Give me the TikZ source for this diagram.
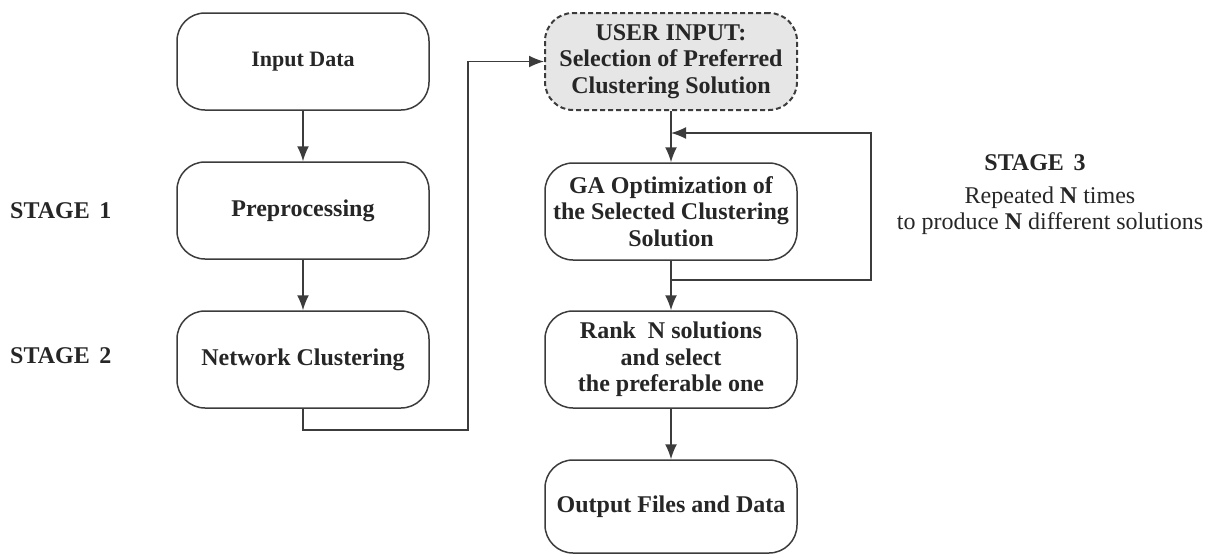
\documentclass[tikz,border=0pt]{standalone}
\usepackage{fontspec}
\setmainfont{Liberation Serif}
\usetikzlibrary{arrows.meta}
\definecolor{ink}{HTML}{262626}
\definecolor{edgec}{HTML}{3C3C3C}
\definecolor{userfill}{HTML}{E6E6E6}
\begin{document}
\begin{tikzpicture}[x=1pt,y=-1pt,
  box/.style={draw=edgec, line width=1.5pt, rounded corners=28pt,
    minimum width=252pt, minimum height=97pt, align=center, text=ink,
    font=\fontsize{24}{26.5}\selectfont\bfseries, inner sep=0pt},
  userbox/.style={box, fill=userfill, line width=2pt, dash pattern=on 5pt off 3pt},
  conn/.style={draw=edgec, line width=1.5pt},
  arr/.style={conn, -{Latex[length=15pt,width=12pt]}},
  stagelbl/.style={text=ink, font=\fontsize{24}{26}\selectfont\bfseries, inner sep=0pt},
  note/.style={text=ink, font=\fontsize{24}{26}\selectfont, align=center, inner sep=0pt}]
\useasboundingbox (0,0) rectangle (1208,554);

\node[box, font=\fontsize{22}{26}\selectfont\bfseries] (in) at (303,61.5) {Input Data};
\node[box] (pre) at (303,210.5) {Preprocessing};
\node[box] (net) at (303,359.5) {Network Clustering};

\node[userbox] (user) at (671,61.5) {USER INPUT:\\Selection of Preferred\\Clustering Solution};
\node[box] (ga) at (671,211.5) {GA Optimization of\\the Selected Clustering\\Solution};
\node[box] (rank) at (671,359.5) {Rank\hspace{0.25em} N solutions\\and select\\the preferable one};
\node[box, minimum height=93pt] (out) at (671,506.5) {Output Files and Data};

\node[stagelbl, anchor=west] (s1) at (10,211) {STAGE\hspace{0.4em}1};
\node[stagelbl, anchor=west] (s2) at (10,356) {STAGE\hspace{0.4em}2};
\node[stagelbl] (s3) at (1035,163) {STAGE\hspace{0.4em}3};
\node[note] (s3t) at (1050,211) {Repeated \textbf{N} times\\to produce \textbf{N} different solutions};

\coordinate (c1) at (303,430);
\coordinate (c2) at (468,430);
\coordinate (c3) at (468,61.5);
\coordinate (f1) at (671,280);
\coordinate (f2) at (871,280);
\coordinate (f3) at (871,133);
\coordinate (f4) at (671,133);

\draw[arr] (in) -- (pre);
\draw[arr] (pre) -- (net);
\draw[arr] (net.south) -- (c1) -- (c2) -- (c3) -- (user.west);
\draw[arr] (user) -- (ga);
\draw[arr] (f1) -- (f2) -- (f3) -- (f4);
\draw[arr] (ga) -- (rank);
\draw[arr] (rank) -- (out);
\end{tikzpicture}
\end{document}
